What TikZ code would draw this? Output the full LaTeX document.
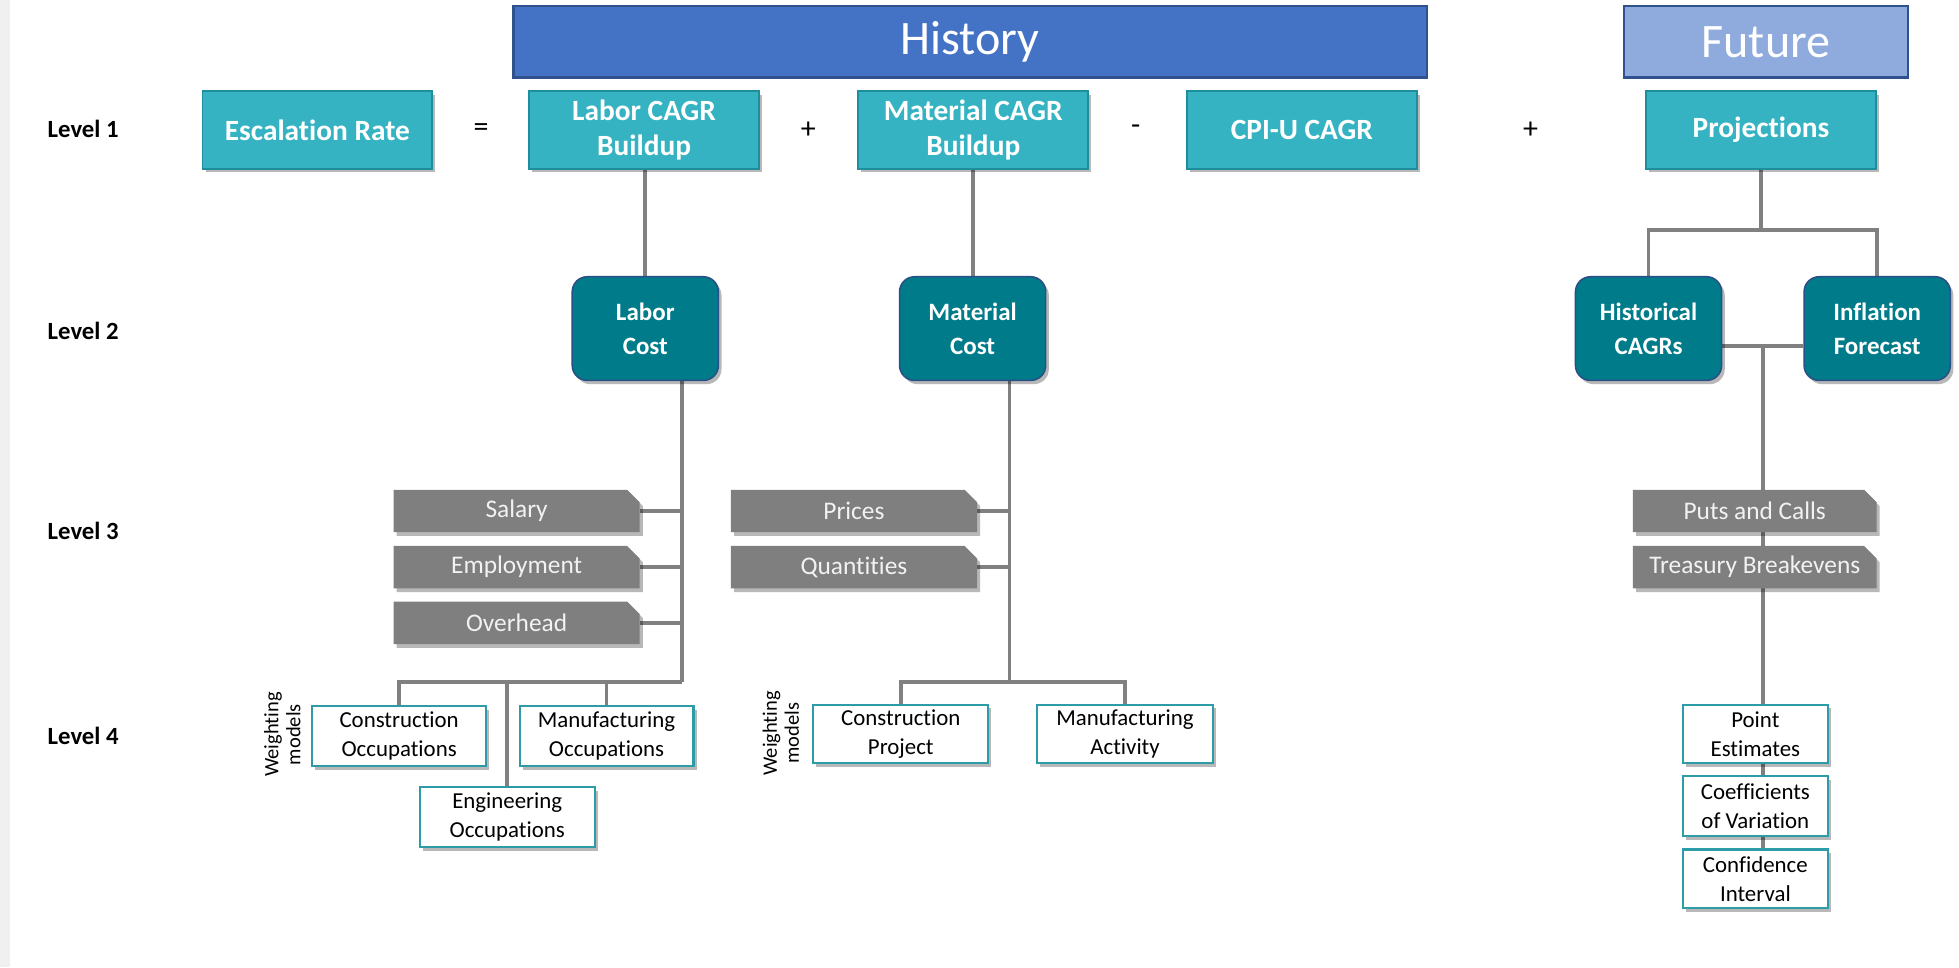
\documentclass[tikz,border=0pt]{standalone}
\usepackage{fontspec}
\setmainfont{Carlito}[RawFeature={-liga;-clig;-calt;-dlig}]
\usetikzlibrary{shapes.misc,shadows}
\pgfdeclarelayer{background}
\pgfsetlayers{background,main}

\definecolor{histblue}{HTML}{4472C4}
\definecolor{futblue}{HTML}{8FAADC}
\definecolor{bandedge}{HTML}{2F528F}
\definecolor{tealfill}{HTML}{35B3C2}
\definecolor{tealedge}{HTML}{1E8E9C}
\definecolor{deepteal}{HTML}{007B89}
\definecolor{deepedge}{HTML}{2B4E86}
\definecolor{slate}{HTML}{7F7F7F}
\definecolor{wireg}{HTML}{808080}
\definecolor{leafedge}{HTML}{2E9BA8}

\tikzset{
  softshadow/.style={drop shadow={shadow xshift=2.5pt, shadow yshift=-3pt, opacity=.28, fill=black}},
  band/.style={draw=bandedge, line width=2, text=white, minimum height=57, inner sep=0,
    font=\fontsize{38.5}{42}\selectfont},
  topbox/.style={draw=tealedge, fill=tealfill, line width=1.4, text=white, align=center,
    minimum width=184, minimum height=62, inner sep=0, softshadow,
    font=\bfseries\fontsize{23.5}{28.5}\selectfont},
  midbox/.style={draw=deepedge, fill=deepteal, rounded corners=12, line width=1.2, text=white,
    align=center, minimum width=117, minimum height=83, inner sep=0, softshadow,
    font=\bfseries\fontsize{20}{27.5}\selectfont},
  greybox/.style={chamfered rectangle, chamfered rectangle corners=north east,
    chamfered rectangle xsep=5pt, chamfered rectangle ysep=5pt,
    fill=slate, draw=none, text=white!95!black, minimum height=34, inner sep=0, softshadow,
    font=\fontsize{20.3}{22}\selectfont},
  leafbox/.style={draw=leafedge, fill=white, line width=1.8, text=black, align=center,
    minimum width=139, minimum height=48, inner sep=0, softshadow,
    font=\fontsize{18.3}{23}\selectfont},
  lvl/.style={anchor=west, inner sep=0, font=\bfseries\fontsize{19.8}{22}\selectfont},
  oper/.style={inner sep=0, font=\fontsize{24}{26}\selectfont},
  wtext/.style={rotate=90, align=center, inner sep=0, font=\fontsize{16.4}{17.5}\selectfont},
  conn/.style={draw=wireg, line width=3},
}

\begin{document}
\begin{tikzpicture}[x=1pt,y=-1pt]
\useasboundingbox (0,0) rectangle (1568,774);
\fill[gray!12] (0,0) rectangle (8,774);

% period bands
\node[band, fill=histblue, minimum width=731] (hist-band) at (776.5,33.5) {History};
\node[band, fill=futblue, minimum width=227] (fut-band) at (1413.5,33.5) {Future};

% level captions
\node[lvl] (lv1) at (38,103) {Level 1};
\node[lvl] (lv2) at (38,265) {Level 2};
\node[lvl] (lv3) at (38,425) {Level 3};
\node[lvl] (lv4) at (38,589) {Level 4};

% junction points of the wiring
\coordinate (pj) at (1410,184);
\coordinate (fmid) at (1411,277);
\coordinate (lab3) at (546,546);
\coordinate (mat3) at (808,546);

% ---- level 1 ----
\node[topbox] (esc) at (254,104) {Escalation Rate};
\node[oper] (eq) at (385,104) {=};
\node[topbox] (labcagr) at (515.5,104) {Labor CAGR\\Buildup};
\node[oper] (plus1) at (647,104) {+};
\node[topbox] (matcagr) at (779,104) {Material CAGR\\Buildup};
\node[oper] (minus) at (909,104) {-};
\node[topbox] (cpi) at (1042,104) {CPI-U CAGR};
\node[oper] (plus2) at (1225,104) {+};
\node[topbox] (proj) at (1409.5,104) {Projections};

% ---- level 2 ----
\node[midbox] (labc) at (516.5,263) {Labor\\Cost};
\node[midbox] (matc) at (778.5,263) {Material\\Cost};
\node[midbox] (hcagr) at (1319.5,263) {Historical\\CAGRs};
\node[midbox] (infl) at (1502.5,263) {Inflation\\Forecast};

% ---- level 3 ----
\node[greybox, minimum width=197] (sal) at (413.5,409) {Salary};
\node[greybox, minimum width=197] (emp) at (413.5,454) {Employment};
\node[greybox, minimum width=197] (ovh) at (413.5,498.5) {Overhead};
\node[greybox, minimum width=197] (pri) at (683.5,409) {Prices};
\node[greybox, minimum width=197] (qty) at (683.5,454) {Quantities};
\node[greybox, minimum width=195] (puts) at (1404.5,409) {Puts and Calls};
\node[greybox, minimum width=195] (tbe) at (1404.5,454) {Treasury Breakevens};

% ---- level 4 ----
\node[leafbox] (cocc) at (319.5,589) {Construction\\Occupations};
\node[leafbox] (mocc) at (485.5,589) {Manufacturing\\Occupations};
\node[leafbox, minimum width=140] (eocc) at (406,654) {Engineering\\Occupations};
\node[wtext] (wm1) at (226,588) {Weighting\\models};
\node[leafbox, minimum width=140, minimum height=47] (cproj) at (721,587.5) {Construction\\Project};
\node[leafbox, minimum width=141, minimum height=47] (mact) at (900.5,587.5) {Manufacturing\\Activity};
\node[wtext] (wm2) at (625,587) {Weighting\\models};
\node[leafbox, minimum width=116, minimum height=47] (pest) at (1405,587.5) {Point\\Estimates};
\node[leafbox, minimum width=116, minimum height=48] (cvar) at (1405,645) {Coefficients\\of Variation};
\node[leafbox, minimum width=116, minimum height=47] (cint) at (1405,703.5) {Confidence\\Interval};

% ---- connectors, kept behind the boxes ----
\begin{pgfonlayer}{background}
  % History branch: labour
  \draw[conn] (labcagr.south -| labc.north) -- (labc.north);
  \draw[conn] (labc.south -| lab3) -- (lab3);
  \draw[conn] (sal.east) -- (sal.east -| lab3);
  \draw[conn] (emp.east) -- (emp.east -| lab3);
  \draw[conn] (ovh.east) -- (ovh.east -| lab3);
  \draw[conn] (cocc.north) -- (cocc.north |- lab3) -- (lab3);
  \draw[conn] (eocc.north) -- (eocc.north |- lab3);
  \draw[conn] (mocc.north) -- (mocc.north |- lab3);
  % History branch: material
  \draw[conn] (matcagr.south -| matc.north) -- (matc.north);
  \draw[conn] (matc.south -| mat3) -- (mat3);
  \draw[conn] (pri.east) -- (pri.east -| mat3);
  \draw[conn] (qty.east) -- (qty.east -| mat3);
  \draw[conn] (cproj.north) -- (cproj.north |- mat3) -- (mact.north |- mat3) -- (mact.north);
  % Future branch
  \draw[conn] (proj.south) -- (proj.south |- pj);
  \draw[conn] (hcagr.north) -- (hcagr.north |- pj) -- (infl.north |- pj) -- (infl.north);
  \draw[conn] (hcagr.east |- fmid) -- (infl.west |- fmid);
  \draw[conn] (fmid) -- (cint.north -| fmid);
\end{pgfonlayer}
\end{tikzpicture}
\end{document}
